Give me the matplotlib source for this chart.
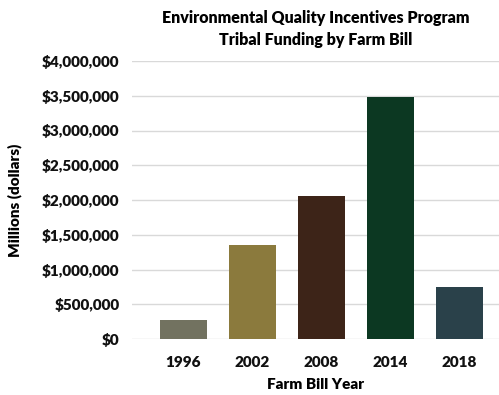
import matplotlib.pyplot as plt
from matplotlib.ticker import FuncFormatter

plt.rcParams['font.family'] = ['Lato', 'DejaVu Sans']
plt.rcParams['font.weight'] = 'heavy'

years = ['1996', '2002', '2008', '2014', '2018']
funding = [273000, 1352000, 2058000, 3482000, 748000]
colors = ['#727260', '#8b7a3d', '#3d2418', '#0c3822', '#2a414a']

fig = plt.figure(figsize=(4.99, 3.95), dpi=100)
ax = fig.add_axes([132 / 499, 56 / 395, 367 / 499, 278 / 395])

x = range(len(years))
ax.bar(x, funding, width=0.68, color=colors, zorder=3)

ax.set_ylim(0, 4000000)
ax.set_xlim(-0.746, 4.57)
ax.set_yticks(range(0, 4000001, 500000))
ax.yaxis.set_major_formatter(FuncFormatter(lambda v, p: '${:,.0f}'.format(v)))
ax.set_xticks(list(x))
ax.set_xticklabels(years)
ax.grid(axis='y', color='#d9d9d9', linewidth=1, zorder=0)
for s in ax.spines.values():
    s.set_visible(False)
ax.tick_params(length=0, labelsize=11, colors='#111111')
ax.tick_params(axis='y', pad=9)
ax.tick_params(axis='x', pad=12)

ax.set_ylabel('Millions (dollars)', fontsize=11, fontweight='heavy', labelpad=14)
ax.set_xlabel('Farm Bill Year', fontsize=11, fontweight='heavy', labelpad=7)
fig.text(316 / 499, 1 - 29 / 395, 'Environmental Quality Incentives Program\nTribal Funding by Farm Bill',
         ha='center', va='center', fontsize=11.5, fontweight='heavy', linespacing=1.4)

fig.savefig('out.png', dpi=100)
